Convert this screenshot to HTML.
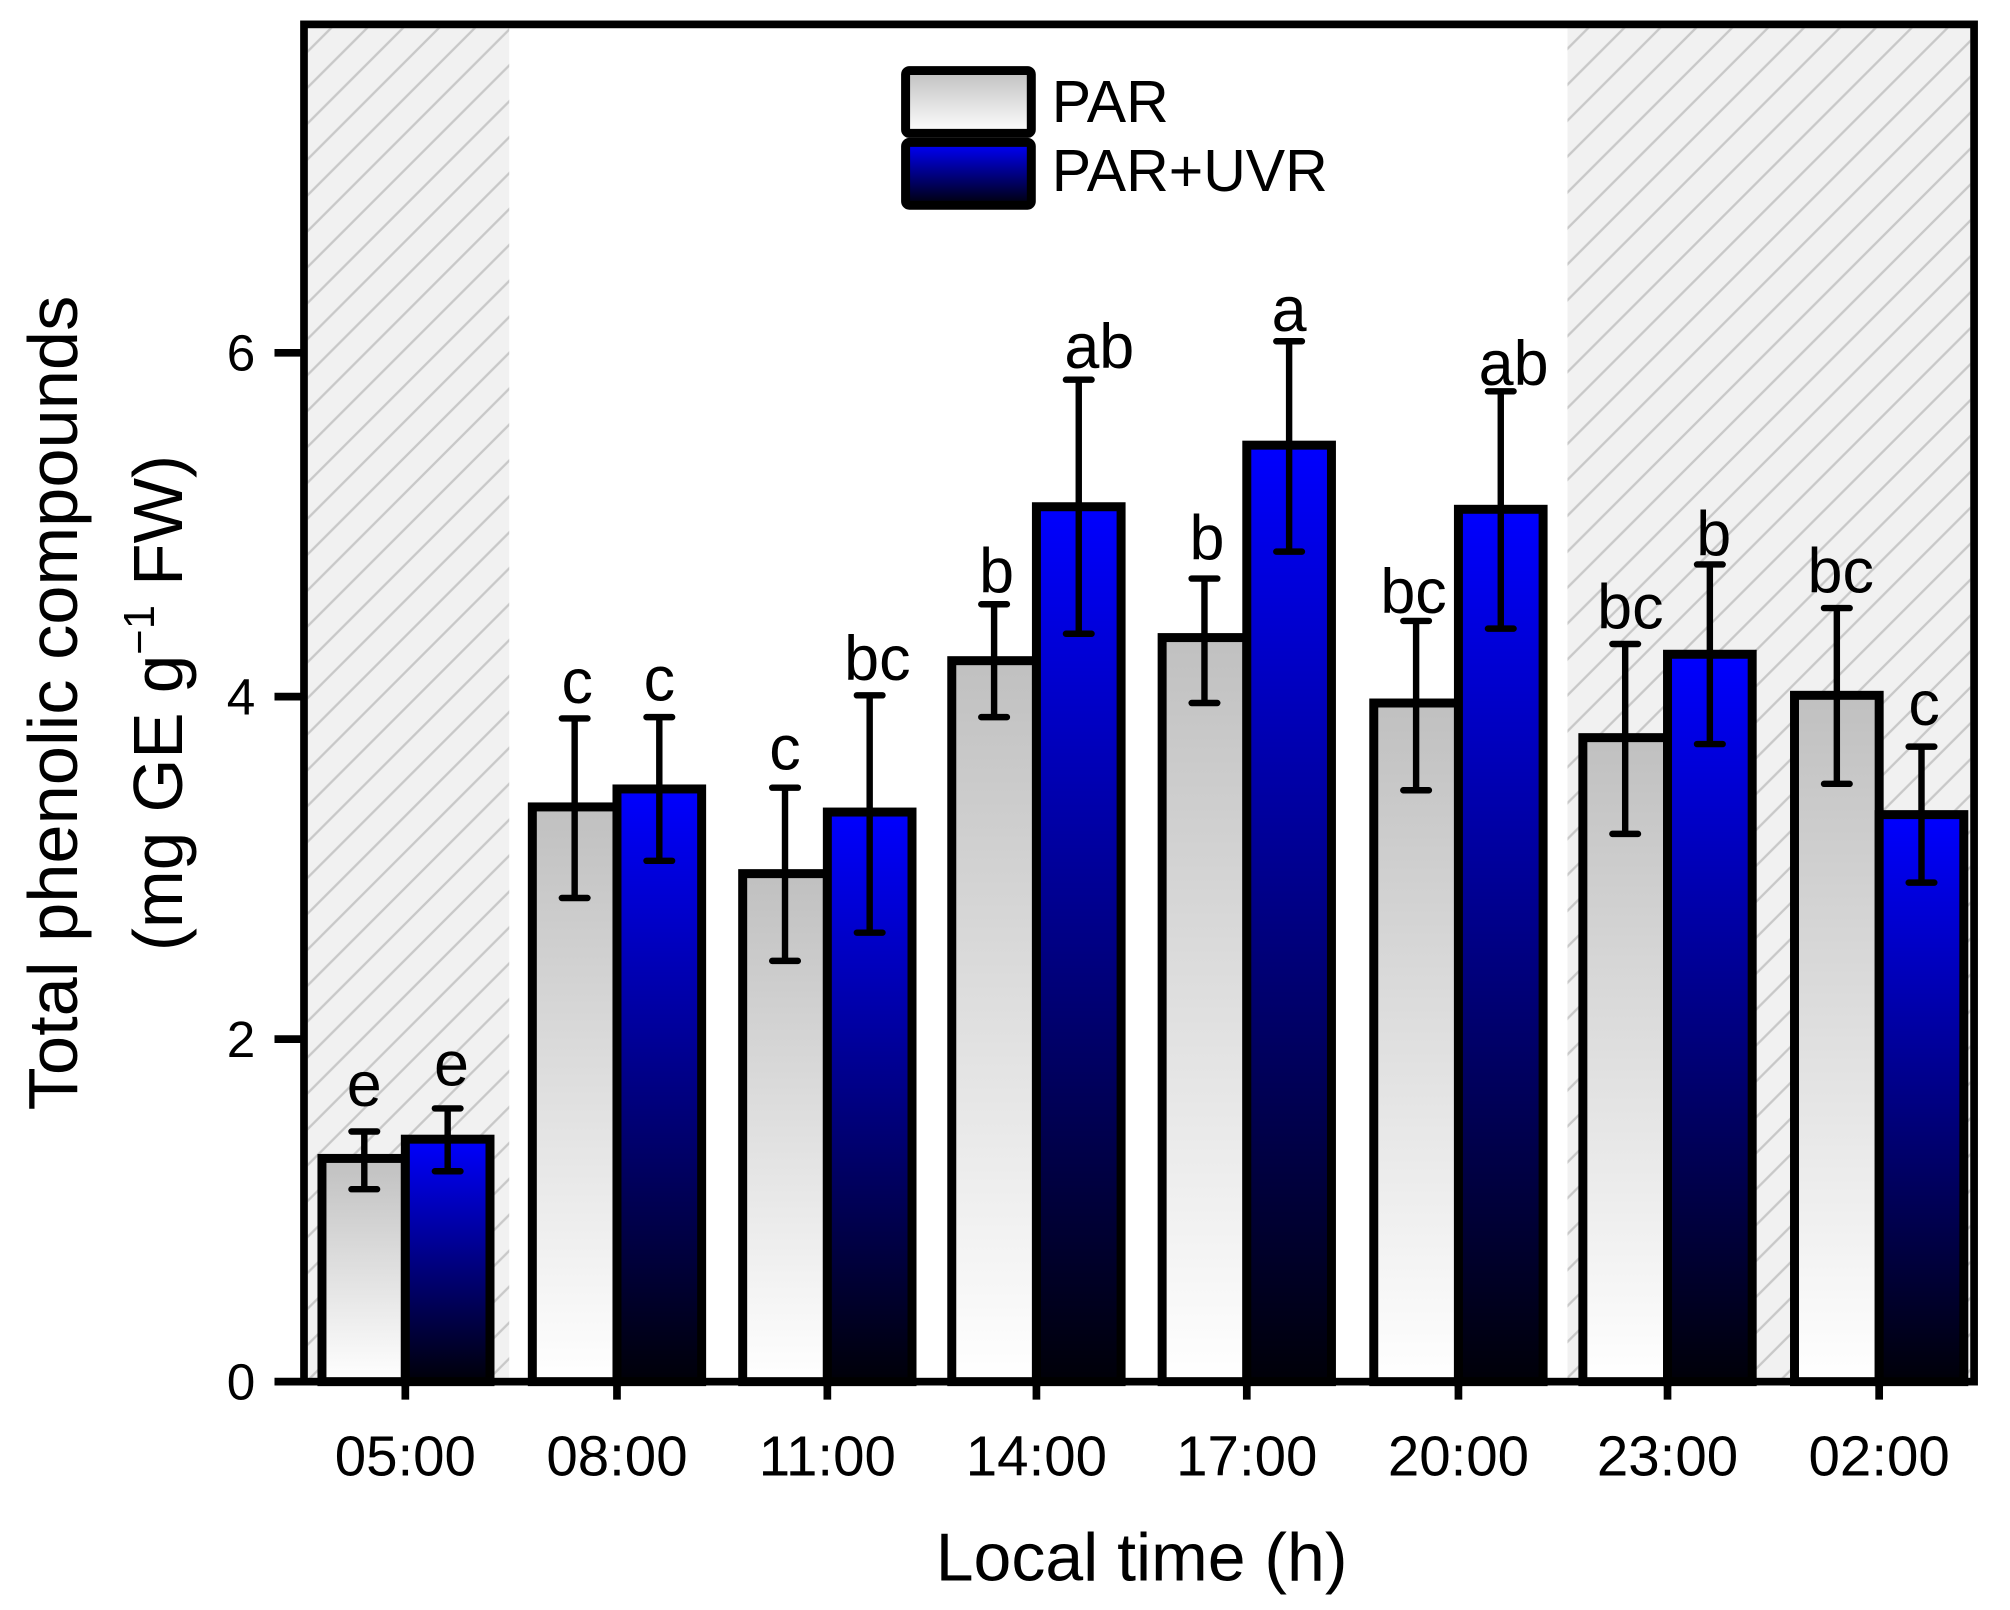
<!DOCTYPE html>
<html><head><meta charset="utf-8"><style>
html,body{margin:0;padding:0;background:#fff;}
svg{display:block;}
text{font-family:"Liberation Sans",Arial,sans-serif;fill:#000;}
</style></head><body>
<svg width="2010" height="1610" viewBox="0 0 1567 1255" preserveAspectRatio="none" xmlns="http://www.w3.org/2000/svg">
<defs>
<linearGradient id="gp" x1="0" y1="0" x2="0" y2="1"><stop offset="0" stop-color="#c0c0c0"/><stop offset="1" stop-color="#ffffff"/></linearGradient>
<linearGradient id="gu" x1="0" y1="0" x2="0" y2="1"><stop offset="0" stop-color="#0000ff"/><stop offset="1" stop-color="#000008"/></linearGradient>
<pattern id="hatch" patternUnits="userSpaceOnUse" width="28" height="28">
<rect width="28" height="28" fill="#f1f1f1"/>
<path d="M-2 30 L30 -2 M-16 16 L16 -16 M12 44 L44 12" stroke="#c8c8c8" stroke-width="1.8"/>
</pattern>
</defs>
<rect x="240" y="22" width="157" height="1055" fill="url(#hatch)"/>
<rect x="1222" y="22" width="314" height="1055" fill="url(#hatch)"/>
<g stroke="#000" stroke-width="7">
<rect x="251" y="903" width="65" height="174" fill="url(#gp)"/>
<rect x="316" y="888" width="66" height="189" fill="url(#gu)"/>
<rect x="415" y="629" width="66" height="448" fill="url(#gp)"/>
<rect x="481" y="615" width="66" height="462" fill="url(#gu)"/>
<rect x="579" y="681" width="66" height="396" fill="url(#gp)"/>
<rect x="645" y="633" width="66" height="444" fill="url(#gu)"/>
<rect x="742" y="515" width="66" height="562" fill="url(#gp)"/>
<rect x="808" y="395" width="66" height="682" fill="url(#gu)"/>
<rect x="906" y="497" width="66" height="580" fill="url(#gp)"/>
<rect x="972" y="347" width="66" height="730" fill="url(#gu)"/>
<rect x="1071" y="548" width="66" height="529" fill="url(#gp)"/>
<rect x="1137" y="397" width="66" height="680" fill="url(#gu)"/>
<rect x="1234" y="575" width="66" height="502" fill="url(#gp)"/>
<rect x="1300" y="510" width="66" height="567" fill="url(#gu)"/>
<rect x="1399" y="542" width="66" height="535" fill="url(#gp)"/>
<rect x="1465" y="635" width="66" height="442" fill="url(#gu)"/>
</g>
<g stroke="#000" stroke-width="5" fill="none" stroke-linecap="round">
<path d="M284 927V882M274 927H294M274 882H294"/>
<path d="M349 913V864M339 913H359M339 864H359"/>
<path d="M448 700V560M438 700H458M438 560H458"/>
<path d="M514 671V559M504 671H524M504 559H524"/>
<path d="M612 749V614M602 749H622M602 614H622"/>
<path d="M678 727V542M668 727H688M668 542H688"/>
<path d="M775 559V471M765 559H785M765 471H785"/>
<path d="M841 494V296M831 494H851M831 296H851"/>
<path d="M939 548V451M929 548H949M929 451H949"/>
<path d="M1005 430V266M995 430H1015M995 266H1015"/>
<path d="M1104 616V484M1094 616H1114M1094 484H1114"/>
<path d="M1170 490V305M1160 490H1180M1160 305H1180"/>
<path d="M1267 650V502M1257 650H1277M1257 502H1277"/>
<path d="M1333 580V440M1323 580H1343M1323 440H1343"/>
<path d="M1432 611V474M1422 611H1442M1422 474H1442"/>
<path d="M1498 688V582M1488 688H1508M1488 582H1508"/>
</g>
<g font-size="49" text-anchor="middle">
<text x="284" y="862">e</text><text x="352" y="846">e</text>
<text x="450" y="548">c</text><text x="514" y="546">c</text>
<text x="612" y="600">c</text><text x="684" y="530">bc</text>
<text x="777" y="462">b</text><text x="857" y="287">ab</text>
<text x="941" y="436">b</text><text x="1005" y="258">a</text>
<text x="1102" y="478">bc</text><text x="1180" y="300">ab</text>
<text x="1271" y="490">bc</text><text x="1336" y="433">b</text>
<text x="1435" y="462">bc</text><text x="1500" y="565">c</text>
</g>
<rect x="237" y="19" width="1302" height="1058" fill="none" stroke="#000" stroke-width="6"/>
<g stroke="#000" stroke-width="6">
<path d="M214 1077H237M214 810H237M214 543H237M214 275H237"/>
<path d="M316 1077V1091M481 1077V1091M645 1077V1091M808 1077V1091M972 1077V1091M1137 1077V1091M1300 1077V1091M1465 1077V1091"/>
</g>
<g font-size="40" text-anchor="end">
<text x="199" y="1091">0</text><text x="199" y="824">2</text><text x="199" y="557">4</text><text x="199" y="289">6</text>
</g>
<g font-size="44" text-anchor="middle">
<text x="316" y="1150">05:00</text><text x="481" y="1150">08:00</text><text x="645" y="1150">11:00</text><text x="808" y="1150">14:00</text>
<text x="972" y="1150">17:00</text><text x="1137" y="1150">20:00</text><text x="1300" y="1150">23:00</text><text x="1465" y="1150">02:00</text>
</g>
<text x="890" y="1232" font-size="53" text-anchor="middle">Local time (h)</text>
<text transform="translate(60,548) rotate(-90)" font-size="54" text-anchor="middle" textLength="635" lengthAdjust="spacingAndGlyphs">Total phenolic compounds</text>
<text transform="translate(142,548) rotate(-90)" font-size="54" text-anchor="middle">(mg GE g<tspan font-size="34" dy="-22">−1</tspan><tspan dy="22"> FW)</tspan></text>
<rect x="706" y="55" width="98" height="49" rx="3" fill="url(#gp)" stroke="#000" stroke-width="7"/>
<rect x="706" y="111" width="98" height="49" rx="3" fill="url(#gu)" stroke="#000" stroke-width="7"/>
<text x="820" y="95" font-size="46">PAR</text>
<text x="820" y="149" font-size="46">PAR+UVR</text>
</svg>
</body></html>
